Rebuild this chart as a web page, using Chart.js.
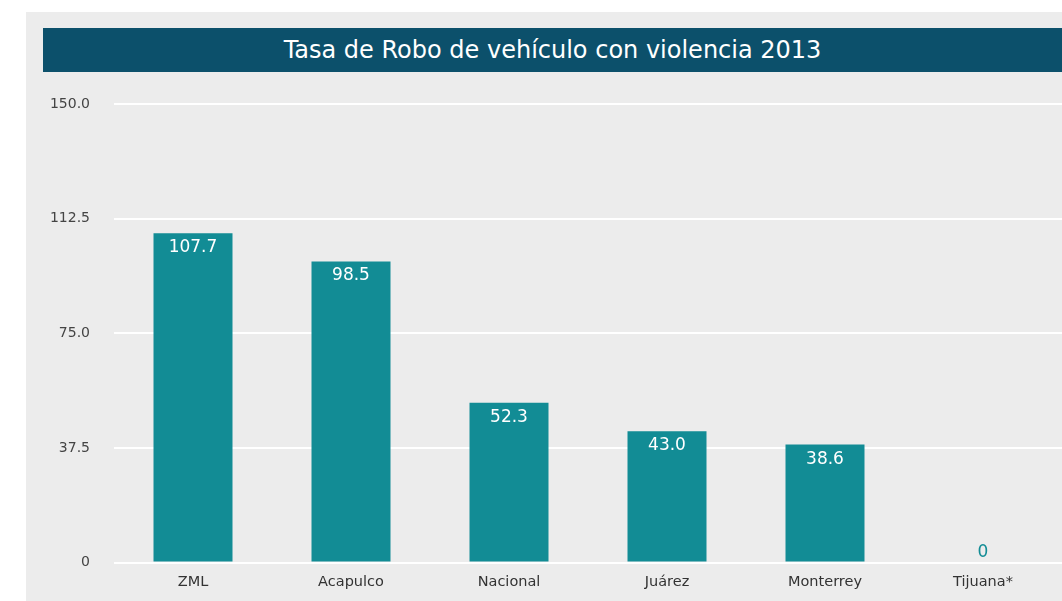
<!DOCTYPE html>
<html>
<head>
<meta charset="utf-8">
<script src="https://cdn.jsdelivr.net/npm/chart.js@4/dist/chart.umd.min.js"></script>
<style>
  body { margin: 0; background: #fff; width: 1062px; height: 601px; overflow: hidden; font-family: "DejaVu Sans", sans-serif; }
  #panel { position: absolute; left: 26px; top: 12px; width: 1036px; height: 589px; background: #ececec; }
  #title { position: absolute; left: 43px; top: 28px; width: 1019px; height: 44px; background: #0c506b;
    color: #fff; font-size: 24px; line-height: 44px; text-align: center; }
  #wrap { position: absolute; left: 26px; top: 12px; width: 1036px; height: 589px; }
</style>
</head>
<body>
<div id="panel"></div>
<div id="wrap"><canvas id="chart"></canvas></div>
<div id="title">Tasa de Robo de vehículo con violencia 2013</div>
<script>
const categories = ['ZML', 'Acapulco', 'Nacional', 'Juárez', 'Monterrey', 'Tijuana*'];
const values = [107.7, 98.5, 52.3, 43.0, 38.6, 0];
const tickLabels = ['0', '37.5', '75.0', '112.5', '150.0'];

const barColor = '#128c95';

const valueLabels = {
  id: 'valueLabels',
  afterDatasetsDraw(chart) {
    const ctx = chart.ctx;
    const meta = chart.getDatasetMeta(0);
    ctx.save();
    ctx.font = '17px "DejaVu Sans"';
    ctx.textAlign = 'center';
    meta.data.forEach((bar, i) => {
      const v = values[i];
      if (v === 0) {
        ctx.fillStyle = barColor;
        ctx.textBaseline = 'bottom';
        ctx.fillText('0', bar.x, bar.y - 2);
      } else {
        ctx.fillStyle = '#fff';
        ctx.textBaseline = 'top';
        ctx.fillText(v.toFixed(1), bar.x, bar.y + 6);
      }
    });
    ctx.restore();
  }
};

new Chart(document.getElementById('chart'), {
  type: 'bar',
  data: {
    labels: categories,
    datasets: [{
      data: values,
      backgroundColor: barColor,
      categoryPercentage: 1,
      barPercentage: 0.5
    }]
  },
  options: {
    responsive: true,
    maintainAspectRatio: false,
    animation: false,
    layout: { padding: { top: 92, bottom: 7, left: 0, right: 0 } },
    plugins: { legend: { display: false }, tooltip: { enabled: false } },
    scales: {
      x: {
        grid: { display: false },
        border: { display: false },
        ticks: { color: '#333', font: { family: 'DejaVu Sans', size: 14.5 }, padding: 3 }
      },
      y: {
        min: 0,
        max: 150,
        afterFit(scale) { scale.width = 88; },
        grid: { color: '#fff', lineWidth: 2, drawTicks: false },
        border: { display: false },
        ticks: {
          stepSize: 37.5,
          padding: 24,
          color: '#444',
          font: { family: 'DejaVu Sans', size: 14 },
          callback: (v, i) => tickLabels[i]
        }
      }
    }
  },
  plugins: [valueLabels]
});
</script>
</body>
</html>
